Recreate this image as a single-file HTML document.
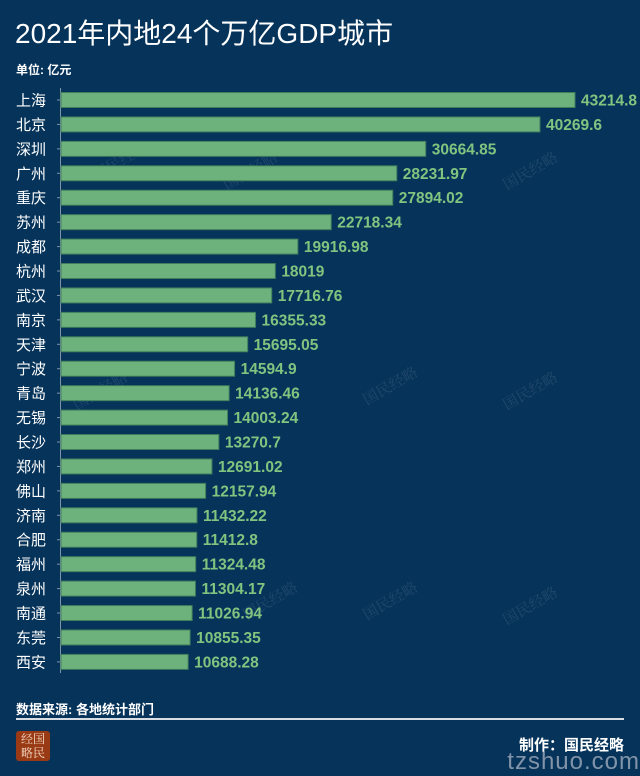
<!DOCTYPE html>
<html><head><meta charset="utf-8">
<style>
html,body{margin:0;padding:0;}
body{width:640px;height:771px;background:#06335a;overflow:hidden;position:relative;font-family:"Liberation Sans","Noto Sans CJK SC",sans-serif;color:#fff;}
.t{position:absolute;white-space:nowrap;}
.wm{position:absolute;color:rgba(255,255,255,0.10);font-family:"Noto Serif CJK SC",serif;font-size:15px;transform:rotate(-30deg);}
</style></head><body>
<div class="t" style="left:15px;top:12px;font-size:28px;">2021年内地24个万亿GDP城市</div>
<div class="t" style="left:16px;top:61px;font-size:12px;font-weight:bold;">单位: 亿元</div>
<div class="wm" style="left:90px;top:150px;">国民经略</div>
<div class="wm" style="left:220px;top:160px;">国民经略</div>
<div class="wm" style="left:500px;top:160px;">国民经略</div>
<div class="wm" style="left:70px;top:380px;">国民经略</div>
<div class="wm" style="left:360px;top:375px;">国民经略</div>
<div class="wm" style="left:500px;top:380px;">国民经略</div>
<div class="wm" style="left:240px;top:590px;">国民经略</div>
<div class="wm" style="left:360px;top:590px;">国民经略</div>
<div class="wm" style="left:500px;top:595px;">国民经略</div>
<svg id="chart" width="640" height="690" style="position:absolute;left:0;top:0;"></svg>
<div class="t" style="left:16px;top:699px;font-size:13px;font-weight:bold;">数据来源: 各地统计部门</div>
<div style="position:absolute;left:16px;top:718px;width:608px;height:2px;background:#d8dde3;"></div>
<div style="position:absolute;left:16px;top:731px;width:34px;height:30px;background:#9a3a14;border-radius:3px;font-family:'Noto Serif CJK SC',serif;font-size:12px;line-height:14px;color:#f3dcc8;text-align:center;padding-top:1px;box-sizing:border-box;">经国<br>略民</div>
<div class="t" style="right:16px;top:734px;font-size:15px;font-weight:bold;">制作：国民经略</div>
<div class="t" style="right:0px;top:748px;font-size:24px;color:rgba(170,180,195,0.75);letter-spacing:1px;">tzshuo.com</div>
<script>
const cities=["上海","北京","深圳","广州","重庆","苏州","成都","杭州","武汉","南京","天津","宁波","青岛","无锡","长沙","郑州","佛山","济南","合肥","福州","泉州","南通","东莞","西安"];
const gdp=[43214.8,40269.6,30664.85,28231.97,27894.02,22718.34,19916.98,18019,17716.76,16355.33,15695.05,14594.9,14136.46,14003.24,13270.7,12691.02,12157.94,11432.22,11412.8,11324.48,11304.17,11026.94,10855.35,10688.28];
const labels=["43214.8","40269.6","30664.85","28231.97","27894.02","22718.34","19916.98","18019","17716.76","16355.33","15695.05","14594.9","14136.46","14003.24","13270.7","12691.02","12157.94","11432.22","11412.8","11324.48","11304.17","11026.94","10855.35","10688.28"];
const svg=document.getElementById('chart');
const NS='http://www.w3.org/2000/svg';
const x0=61,xMax=575,maxV=43214.8;
function xs(v){return x0+(v/maxV)*(xMax-x0);}
function yc(i){return 100+i*24.43;}
const ax=document.createElementNS(NS,'line');


ax.setAttribute('x1',x0-0.5);ax.setAttribute('x2',x0-0.5);ax.setAttribute('y1',88);ax.setAttribute('y2',673);
ax.setAttribute('stroke','#7f93a8');ax.setAttribute('stroke-width','1');
svg.appendChild(ax);
cities.forEach((c,i)=>{
  const y=yc(i);
  const tk=document.createElementNS(NS,'line');
  
  
  tk.setAttribute('x1',x0-4);tk.setAttribute('x2',x0);tk.setAttribute('y1',y);tk.setAttribute('y2',y);
  tk.setAttribute('stroke','#7f93a8');
  svg.appendChild(tk);
  const lb=document.createElementNS(NS,'text');
  
  
  lb.setAttribute('x',16);lb.setAttribute('y',y+5.5);
  lb.setAttribute('fill','#fff');lb.setAttribute('font-size','15');
  lb.setAttribute('font-family','"Liberation Sans","Noto Sans CJK SC",sans-serif');
  lb.textContent=c;svg.appendChild(lb);
  const r=document.createElementNS(NS,'rect');
  
  
  r.setAttribute('x',x0);r.setAttribute('y',y-7.5);
  r.setAttribute('width',xs(gdp[i])-x0);r.setAttribute('height',15);
  r.setAttribute('fill','#6db27c');r.setAttribute('stroke','#3f7d5c');r.setAttribute('stroke-width','1');
  svg.appendChild(r);
  const vt=document.createElementNS(NS,'text');
  
  
  vt.setAttribute('x',xs(gdp[i])+6);vt.setAttribute('y',y+5.5);
  vt.setAttribute('fill','#80c47f');vt.setAttribute('font-size','15.5');vt.setAttribute('font-weight','bold');
  vt.setAttribute('font-family','"Liberation Sans Narrow","Liberation Sans",sans-serif');
  vt.textContent=labels[i];svg.appendChild(vt);
});
</script>
</body></html>
